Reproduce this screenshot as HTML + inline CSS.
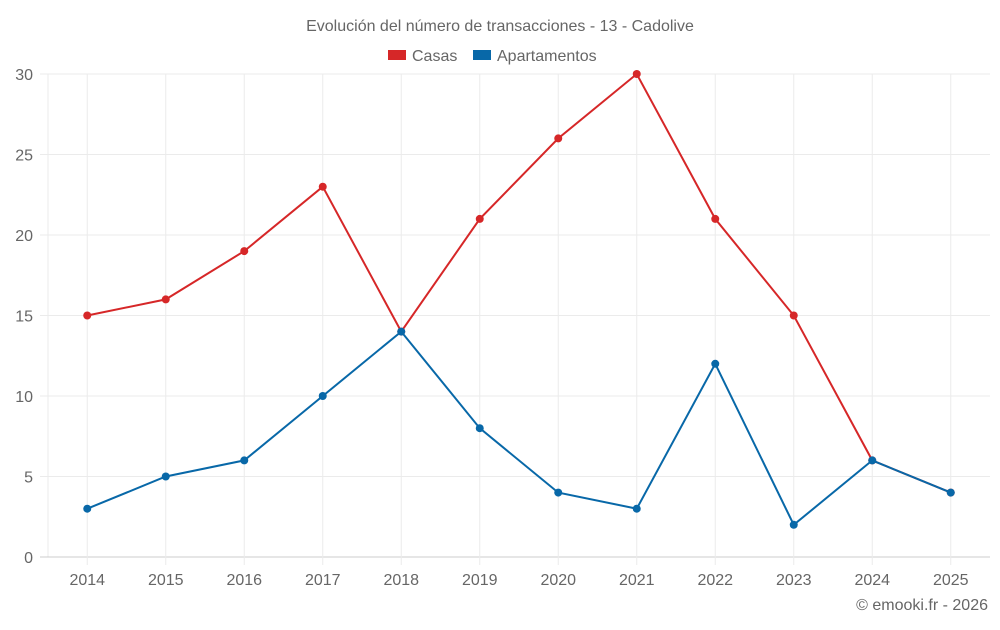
<!DOCTYPE html>
<html><head><meta charset="utf-8"><style>
body{margin:0;background:#fff;font-family:"Liberation Sans",sans-serif}
svg text{font-family:"Liberation Sans",sans-serif;fill:#666}
</style></head><body>
<svg id="c" width="1000" height="625">
<text x="500" y="31" text-anchor="middle" font-size="16">Evolución del número de transacciones - 13 - Cadolive</text>
<g>
<rect x="388" y="50" width="18" height="10" fill="#d62728"/>
<text x="412" y="61" font-size="16">Casas</text>
<rect x="473" y="50" width="18" height="10" fill="#0868a8"/>
<text x="497" y="61" font-size="16">Apartamentos</text>
</g>
<g id="grid"></g><g id="axes"></g><g id="series"></g>
<text x="988" y="610" text-anchor="end" font-size="16">© emooki.fr - 2026</text>
</svg>
<script>
const years=["2014","2015","2016","2017","2018","2019","2020","2021","2022","2023","2024","2025"];
const casas=[15,16,19,23,14,21,26,30,21,15,6,4];
const apartamentos=[3,5,6,10,14,8,4,3,12,2,6,4];
const yTicks=[0,5,10,15,20,25,30];
const NS="http://www.w3.org/2000/svg";
const L=48,R=990,T=74,B=557,yMax=30;
const step=(R-L)/years.length;
const x=i=>L+step*(i+0.5);
const y=v=>B-(v/yMax)*(B-T);
function mk(tag,attrs,parent){const e=document.createElementNS(NS,tag);for(const k in attrs)e.setAttribute(k,attrs[k]);parent.appendChild(e);return e;}
const grid=document.getElementById('grid'),axes=document.getElementById('axes'),ser=document.getElementById('series');
const lg=mk('line',{x1:L,x2:L,y1:T,y2:B,stroke:'#ebebeb'},grid);


yTicks.forEach(t=>{
 const g=mk('line',{x1:L-8,x2:R,y1:y(t),y2:y(t),stroke:t===0?'#ccc':'#ebebeb'},grid);
 
 
 const tx=mk('text',{x:33,y:y(t)+6,'text-anchor':'end','font-size':16},axes);tx.textContent=t;
 
 
});
years.forEach((yr,i)=>{
 const g=mk('line',{x1:x(i),x2:x(i),y1:T,y2:B+8,stroke:'#ebebeb'},grid);
 
 
 const tx=mk('text',{x:x(i),y:585,'text-anchor':'middle','font-size':16},axes);tx.textContent=yr;
 
 
});
function draw(vals,color,name){
 const p=mk('polyline',{points:vals.map((v,i)=>x(i)+','+y(v)).join(' '),fill:'none',stroke:color,'stroke-width':2},ser);
 
 
 vals.forEach((v,i)=>{
  const c=mk('circle',{cx:x(i),cy:y(v),r:4,fill:color},ser);
  
  
 });
}
draw(casas,'#d62728','casas');
draw(apartamentos,'#0868a8','apartamentos');
</script>
</body></html>
